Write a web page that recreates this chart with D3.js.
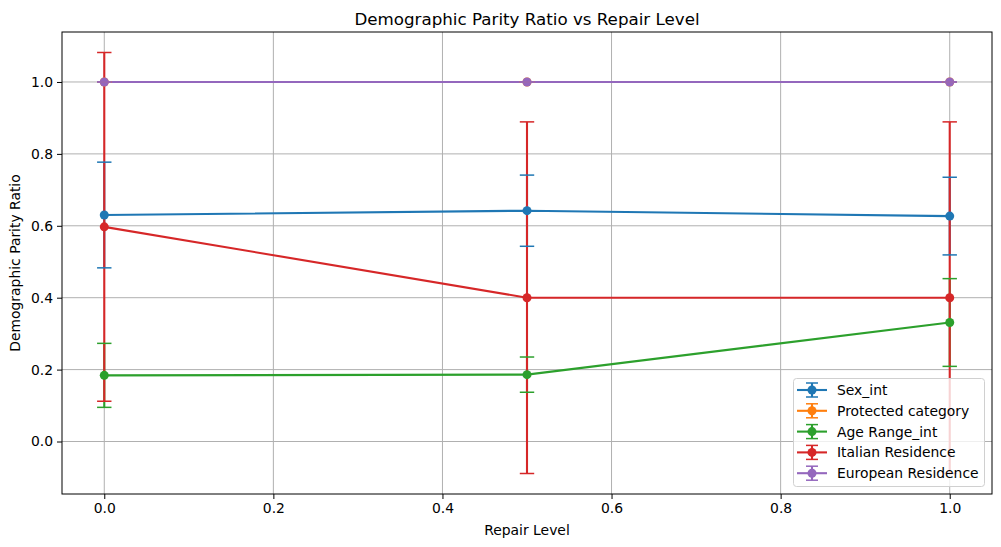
<!DOCTYPE html>
<html><head><meta charset="utf-8">
<script src="https://cdn.jsdelivr.net/npm/d3@7"></script>
<style>body{margin:0;background:#fff}svg{display:block;font-family:"DejaVu Sans",sans-serif}</style>
</head><body><svg id="c" width="1001" height="547"></svg>
<script>
const repairLevels = [0.0, 0.5, 1.0];
const seriesNames = ["Sex_int", "Protected category", "Age Range_int", "Italian Residence", "European Residence"];
const colors = ["#1f77b4", "#ff7f0e", "#2ca02c", "#d62728", "#9467bd"];
const sexVals = [0.630, 0.642, 0.627];
const sexErr = [0.147, 0.099, 0.108];
const protVals = [1.0, 1.0, 1.0];
const protErr = [0, 0, 0];
const ageVals = [0.184, 0.186, 0.331];
const ageErr = [0.089, 0.049, 0.122];
const itVals = [0.597, 0.400, 0.400];
const itErr = [0.485, 0.489, 0.489];
const euVals = [1.0, 1.0, 1.0];
const euErr = [0, 0, 0];
const xTicks = [0.0, 0.2, 0.4, 0.6, 0.8, 1.0];
const yTicks = [0.0, 0.2, 0.4, 0.6, 0.8, 1.0];

const series = [
  {name: seriesNames[0], color: colors[0], v: sexVals, e: sexErr},
  {name: seriesNames[1], color: colors[1], v: protVals, e: protErr},
  {name: seriesNames[2], color: colors[2], v: ageVals, e: ageErr},
  {name: seriesNames[3], color: colors[3], v: itVals, e: itErr},
  {name: seriesNames[4], color: colors[4], v: euVals, e: euErr}
];

const FS = 13.9;
const svg = d3.select("#c");
const L = 62, R = 992, T = 32, B = 494;
const x = d3.scaleLinear().domain([-0.05, 1.05]).range([L, R]);
const y = d3.scaleLinear().domain([-0.146, 1.139]).range([B, T]);

// grid
const g = svg.append("g");
g.selectAll(".gx").data(xTicks).join("line")
  .attr("x1", d => x(d)).attr("x2", d => x(d)).attr("y1", T).attr("y2", B)
  .attr("stroke", "#b0b0b0").attr("stroke-width", 1);
g.selectAll(".gy").data(yTicks).join("line")
  .attr("y1", d => y(d)).attr("y2", d => y(d)).attr("x1", L).attr("x2", R)
  .attr("stroke", "#b0b0b0").attr("stroke-width", 1);

// error bar lines
series.forEach(s => {
  svg.append("g").selectAll("line").data(repairLevels.map((r, i) => ({r, v: s.v[i], e: s.e[i]}))).join("line")
    .attr("x1", d => x(d.r)).attr("x2", d => x(d.r))
    .attr("y1", d => y(d.v - d.e)).attr("y2", d => y(d.v + d.e))
    .attr("stroke", s.color).attr("stroke-width", 2.1);
});
// data lines and markers
const line = d3.line().x((d, i) => x(repairLevels[i])).y(d => y(d));
series.forEach(s => {
  svg.append("path").attr("d", line(s.v)).attr("fill", "none").attr("stroke", s.color).attr("stroke-width", 2.1);
  svg.append("g").selectAll("circle").data(s.v).join("circle")
    .attr("cx", (d, i) => x(repairLevels[i])).attr("cy", d => y(d)).attr("r", 4.5).attr("fill", s.color);
});
// caps
series.forEach(s => {
  const pts = [];
  repairLevels.forEach((r, i) => { pts.push({r, yv: s.v[i] - s.e[i]}); pts.push({r, yv: s.v[i] + s.e[i]}); });
  svg.append("g").selectAll("line").data(pts).join("line")
    .attr("x1", d => x(d.r) - 7.2).attr("x2", d => x(d.r) + 7.2)
    .attr("y1", d => y(d.yv)).attr("y2", d => y(d.yv))
    .attr("stroke", s.color).attr("stroke-width", 1.5);
});

// axes
const xAxis = d3.axisBottom(x).tickValues(xTicks).tickFormat(d3.format(".1f")).tickSize(5).tickPadding(4);
const yAxis = d3.axisLeft(y).tickValues(yTicks).tickFormat(d3.format(".1f")).tickSize(5).tickPadding(4);
const gx = svg.append("g").attr("transform", `translate(0,${B})`).call(xAxis);
const gy = svg.append("g").attr("transform", `translate(${L},0)`).call(yAxis);
[gx, gy].forEach(a => {
  a.select(".domain").remove();
  a.selectAll("text").attr("font-size", FS).attr("fill", "#000").attr("font-family", "DejaVu Sans");
  a.selectAll("line").attr("stroke", "#000").attr("stroke-width", 1);
});
svg.append("rect").attr("x", L).attr("y", T).attr("width", R - L).attr("height", B - T)
  .attr("fill", "none").attr("stroke", "#000").attr("stroke-width", 1);

svg.append("text").attr("x", (L + R) / 2).attr("y", 24.5).attr("text-anchor", "middle")
  .attr("font-size", 16.7).text("Demographic Parity Ratio vs Repair Level");
svg.append("text").attr("x", (L + R) / 2).attr("y", 535).attr("text-anchor", "middle")
  .attr("font-size", FS).text("Repair Level");
svg.append("text").attr("transform", `translate(19.5,${(T + B) / 2}) rotate(-90)`).attr("text-anchor", "middle")
  .attr("font-size", FS).text("Demographic Parity Ratio");

// legend
const lg = svg.append("g");
lg.append("rect").attr("x", 793.5).attr("y", 378.5).attr("width", 191).attr("height", 108).attr("rx", 3)
  .attr("fill", "#fff").attr("fill-opacity", 0.8).attr("stroke", "#d0d0d0").attr("stroke-width", 1);
series.forEach((s, i) => {
  const cy = 390 + i * 20.8;
  const e = lg.append("g");
  e.append("line").attr("x1", 797).attr("x2", 827).attr("y1", cy).attr("y2", cy).attr("stroke", s.color).attr("stroke-width", 2.1);
  e.append("line").attr("x1", 812).attr("x2", 812).attr("y1", cy - 7).attr("y2", cy + 7).attr("stroke", s.color).attr("stroke-width", 2.1);
  e.append("line").attr("x1", 806).attr("x2", 818).attr("y1", cy - 7).attr("y2", cy - 7).attr("stroke", s.color).attr("stroke-width", 1.5);
  e.append("line").attr("x1", 806).attr("x2", 818).attr("y1", cy + 7).attr("y2", cy + 7).attr("stroke", s.color).attr("stroke-width", 1.5);
  e.append("circle").attr("cx", 812).attr("cy", cy).attr("r", 4.5).attr("fill", s.color);
  e.append("text").attr("x", 837).attr("y", cy + 5).attr("font-size", FS).text(s.name);
});
</script></body></html>
